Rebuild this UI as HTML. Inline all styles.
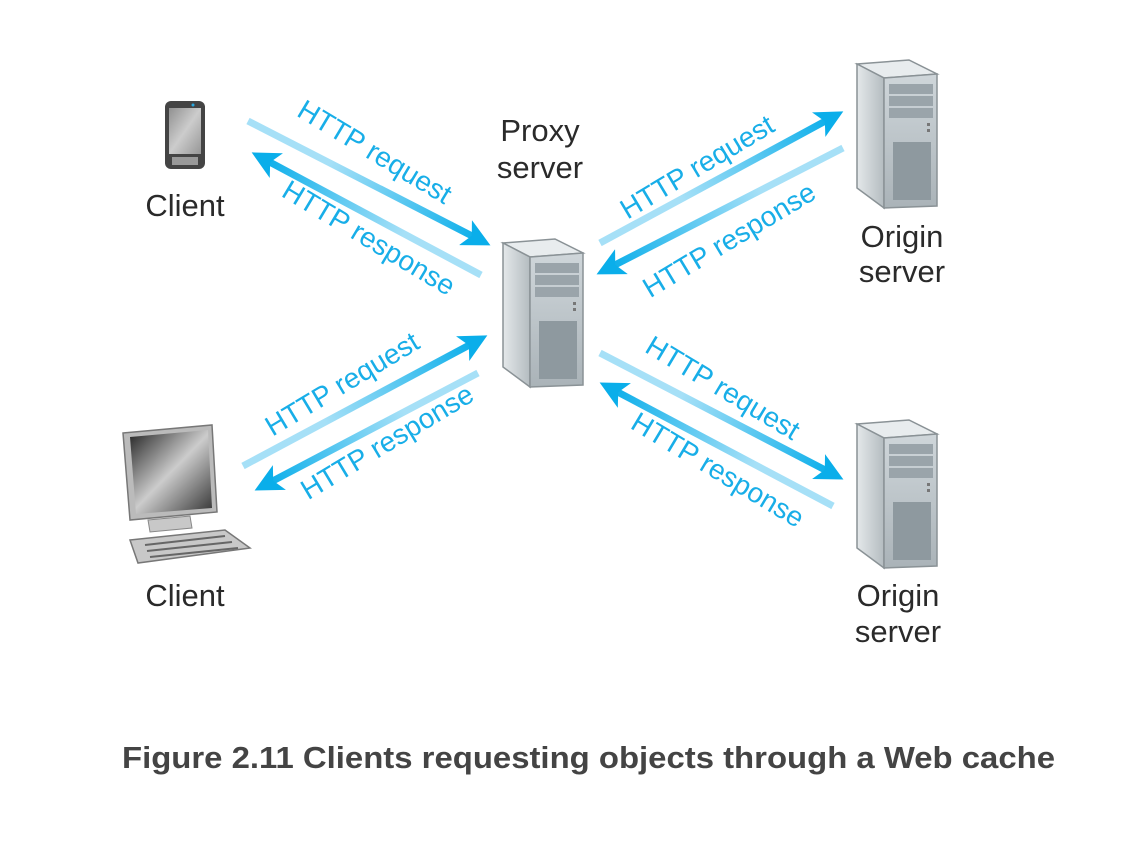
<!DOCTYPE html>
<html><head><meta charset="utf-8"><style>
html,body{margin:0;padding:0;background:#fff;}
svg{display:block}
</style></head><body>
<svg width="1128" height="860" viewBox="0 0 1128 860" xmlns="http://www.w3.org/2000/svg">
<defs>
<linearGradient id="side" x1="0" y1="0" x2="1" y2="0"><stop offset="0" stop-color="#e4e8ea"/><stop offset="1" stop-color="#b4bcc0"/></linearGradient>
<linearGradient id="front" x1="0" y1="0" x2="0" y2="1"><stop offset="0" stop-color="#cfd6da"/><stop offset="1" stop-color="#aab3b8"/></linearGradient>
<linearGradient id="scr" x1="0" y1="0" x2="1" y2="1"><stop offset="0" stop-color="#222"/><stop offset="0.5" stop-color="#ccc"/><stop offset="1" stop-color="#333"/></linearGradient>
<g id="srv">
<polygon points="0,4 52,0 80,14 27,18" fill="#e8ecee" stroke="#8a9296" stroke-width="1.5"/>
<polygon points="0,4 27,18 27,148 0,128" fill="url(#side)" stroke="#8a9296" stroke-width="1.5"/>
<polygon points="27,18 80,14 80,146 27,148" fill="url(#front)" stroke="#8a9296" stroke-width="1.5"/>
<rect x="32" y="24" width="44" height="10" fill="#9aa4aa"/>
<rect x="32" y="36" width="44" height="10" fill="#9aa4aa"/>
<rect x="32" y="48" width="44" height="10" fill="#9aa4aa"/>
<rect x="70" y="63" width="3" height="3" fill="#777"/><rect x="70" y="69" width="3" height="3" fill="#777"/>
<rect x="36" y="82" width="38" height="58" fill="#8e999f"/>
</g>
<marker id="ah" markerWidth="4" markerHeight="4" refX="2" refY="2" orient="auto" markerUnits="strokeWidth"><path d="M0,0 L4,2 L0,4 L1,2 Z" fill="#0aaeea"/></marker>
<linearGradient id="g1" gradientUnits="userSpaceOnUse" x1="248" y1="121" x2="480" y2="240"><stop offset="0" stop-color="#a6e0f7"/><stop offset="0.35" stop-color="#a6e0f7"/><stop offset="1" stop-color="#0aaeea"/></linearGradient>
<linearGradient id="g2" gradientUnits="userSpaceOnUse" x1="481" y1="275" x2="262" y2="158"><stop offset="0" stop-color="#a6e0f7"/><stop offset="0.35" stop-color="#a6e0f7"/><stop offset="1" stop-color="#0aaeea"/></linearGradient>
<linearGradient id="g3" gradientUnits="userSpaceOnUse" x1="600" y1="243" x2="832" y2="117"><stop offset="0" stop-color="#a6e0f7"/><stop offset="0.35" stop-color="#a6e0f7"/><stop offset="1" stop-color="#0aaeea"/></linearGradient>
<linearGradient id="g4" gradientUnits="userSpaceOnUse" x1="843" y1="148" x2="608" y2="268"><stop offset="0" stop-color="#a6e0f7"/><stop offset="0.35" stop-color="#a6e0f7"/><stop offset="1" stop-color="#0aaeea"/></linearGradient>
<linearGradient id="g5" gradientUnits="userSpaceOnUse" x1="243" y1="466" x2="476" y2="341"><stop offset="0" stop-color="#a6e0f7"/><stop offset="0.35" stop-color="#a6e0f7"/><stop offset="1" stop-color="#0aaeea"/></linearGradient>
<linearGradient id="g6" gradientUnits="userSpaceOnUse" x1="478" y1="373" x2="266" y2="484"><stop offset="0" stop-color="#a6e0f7"/><stop offset="0.35" stop-color="#a6e0f7"/><stop offset="1" stop-color="#0aaeea"/></linearGradient>
<linearGradient id="g7" gradientUnits="userSpaceOnUse" x1="600" y1="353" x2="832" y2="473"><stop offset="0" stop-color="#a6e0f7"/><stop offset="0.35" stop-color="#a6e0f7"/><stop offset="1" stop-color="#0aaeea"/></linearGradient>
<linearGradient id="g8" gradientUnits="userSpaceOnUse" x1="833" y1="506" x2="611" y2="389"><stop offset="0" stop-color="#a6e0f7"/><stop offset="0.35" stop-color="#a6e0f7"/><stop offset="1" stop-color="#0aaeea"/></linearGradient>
</defs>

<rect x="165" y="101" width="40" height="68" rx="6" fill="#444"/>
<rect x="169" y="108" width="32" height="46" fill="#ccc"/>
<rect x="169" y="108" width="32" height="46" fill="url(#scr)" opacity="0.35"/>
<circle cx="193" cy="105" r="1.5" fill="#29a9e0"/>
<rect x="172" y="157" width="26" height="8" fill="#999"/>

<polygon points="123,433 212,425 217,512 130,520" fill="#bbb" stroke="#777" stroke-width="1.5"/>
<polygon points="130,437 208,430 212,508 136,514" fill="url(#scr)"/>
<polygon points="148,520 190,516 192,528 150,532" fill="#c8c8c8" stroke="#888"/>
<polygon points="130,540 225,530 250,548 138,563" fill="#c8c8c8" stroke="#777" stroke-width="1.5"/>
<line x1="145" y1="545" x2="225" y2="536" stroke="#666" stroke-width="2"/>
<line x1="147" y1="551" x2="232" y2="542" stroke="#666" stroke-width="2"/>
<line x1="150" y1="557" x2="238" y2="548" stroke="#666" stroke-width="2"/>

<use href="#srv" x="503" y="239"/>
<use href="#srv" x="857" y="60"/>
<use href="#srv" x="857" y="420"/>

<g stroke-width="7" fill="none">
<line x1="248" y1="121" x2="478" y2="239" stroke="url(#g1)" marker-end="url(#ah)"/>
<line x1="481" y1="275" x2="264" y2="159" stroke="url(#g2)" marker-end="url(#ah)"/>
<line x1="600" y1="243" x2="831" y2="118" stroke="url(#g3)" marker-end="url(#ah)"/>
<line x1="843" y1="148" x2="609" y2="268" stroke="url(#g4)" marker-end="url(#ah)"/>
<line x1="243" y1="466" x2="475" y2="342" stroke="url(#g5)" marker-end="url(#ah)"/>
<line x1="478" y1="373" x2="267" y2="484" stroke="url(#g6)" marker-end="url(#ah)"/>
<line x1="600" y1="353" x2="831" y2="473" stroke="url(#g7)" marker-end="url(#ah)"/>
<line x1="833" y1="506" x2="612" y2="389" stroke="url(#g8)" marker-end="url(#ah)"/>
</g>

<g font-family="Liberation Sans, sans-serif" font-size="28" fill="#18aee8" text-anchor="middle">
<text transform="translate(370,160) rotate(31)">HTTP request</text>
<text transform="translate(364,246) rotate(31)">HTTP response</text>
<text transform="translate(702,175) rotate(-31)">HTTP request</text>
<text transform="translate(734,248) rotate(-31)">HTTP response</text>
<text transform="translate(347,392) rotate(-31)">HTTP request</text>
<text transform="translate(392,450) rotate(-31)">HTTP response</text>
<text transform="translate(718,396) rotate(31)">HTTP request</text>
<text transform="translate(713,478) rotate(31)">HTTP response</text>
</g>

<g font-family="Liberation Sans, sans-serif" font-size="31" fill="#2a2a2a" text-anchor="middle">
<text x="185" y="216">Client</text>
<text x="540" y="141">Proxy</text>
<text x="540" y="178">server</text>
<text x="902" y="247">Origin</text>
<text x="902" y="282">server</text>
<text x="185" y="606">Client</text>
<text x="898" y="606">Origin</text>
<text x="898" y="642">server</text>
</g>
<text x="122" y="768" font-family="Liberation Sans, sans-serif" font-weight="bold" font-size="31" fill="#444" textLength="933" lengthAdjust="spacingAndGlyphs">Figure 2.11 Clients requesting objects through a Web cache</text>
</svg>
</body></html>
